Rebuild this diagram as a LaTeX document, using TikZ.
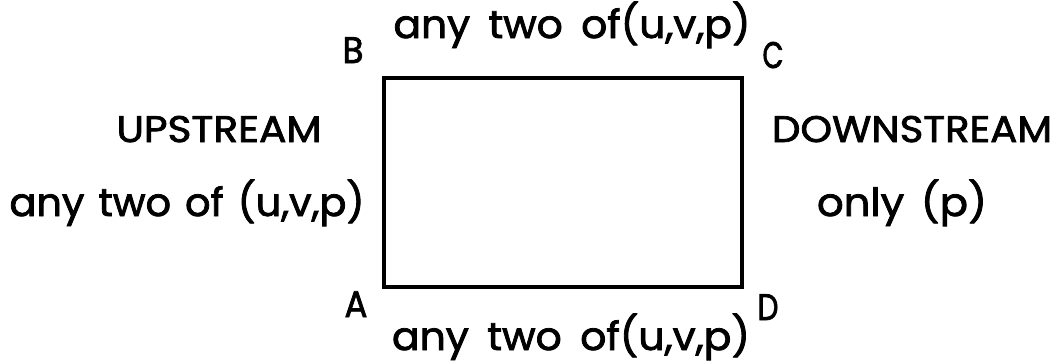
\documentclass[tikz,border=0pt]{standalone}
\usepackage{fontspec}
\newfontfamily\lettering{Poppins}[FakeBold=2]
\newcommand\fitw[2]{\resizebox{#1}{\height}{#2}}
\begin{document}
\begin{tikzpicture}[x=1pt,y=-1pt,
  lc/.style={inner sep=0pt, anchor=base, font=\lettering\fontsize{39}{42}\selectfont},
  uc/.style={inner sep=0pt, anchor=base, font=\lettering\fontsize{37}{40}\selectfont},
  boxline/.style={line width=3.6pt, line join=miter}]
\useasboundingbox (0,0) rectangle (1063,362);
\coordinate (A) at (384,287);
\coordinate (B) at (384,78);
\coordinate (C) at (742,78);
\coordinate (D) at (742,287);
\draw[boxline] (A) -- (B) -- (C) -- (D) -- cycle;
\node[uc] (lB) at (353,63) {\fitw{21pt}{B}};
\node[uc] (lC) at (773,68) {\fitw{21pt}{C}};
\node[uc] (lA) at (356,317) {\fitw{23pt}{A}};
\node[uc] (lD) at (768,320) {\fitw{21pt}{D}};
\node[lc] (top) at (572,38) {\fitw{357pt}{any\hspace{0.45em}two\hspace{0.45em}of(u,v,p)}};
\node[lc] (bot) at (571,350) {\fitw{358pt}{any\hspace{0.45em}two\hspace{0.45em}of(u,v,p)}};
\node[uc] (up) at (219,142) {\fitw{205pt}{UPSTREAM}};
\node[lc] (upc) at (187,216) {\fitw{355pt}{any\hspace{0.35em}two\hspace{0.35em}of\hspace{0.35em}(u,v,p)}};
\node[uc] (down) at (912,142) {\fitw{280pt}{DOWNSTREAM}};
\node[lc] (downc) at (902,216) {\fitw{170pt}{only\hspace{0.4em}(p)}};
\end{tikzpicture}
\end{document}
